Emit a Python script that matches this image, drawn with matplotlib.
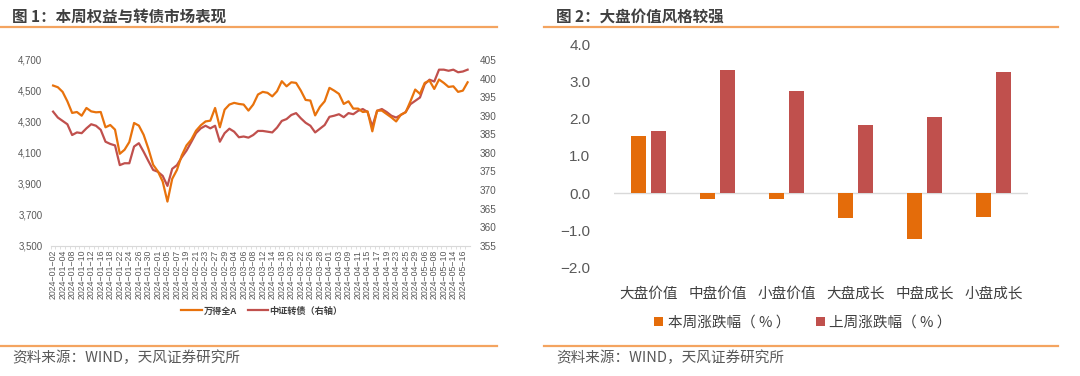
import matplotlib
matplotlib.use("Agg")
import matplotlib.pyplot as plt
import numpy as np

plt.rcParams['font.family'] = ['Noto Sans CJK SC', 'DejaVu Sans']
plt.rcParams['axes.unicode_minus'] = True

W, H = 1080, 376

# ---------------- data: chart 1 ----------------
tick_labels = [
    "2024-01-02", "2024-01-04", "2024-01-08", "2024-01-10", "2024-01-12", "2024-01-16",
    "2024-01-18", "2024-01-22", "2024-01-24", "2024-01-26", "2024-01-30", "2024-02-01",
    "2024-02-05", "2024-02-07", "2024-02-19", "2024-02-21", "2024-02-23", "2024-02-27",
    "2024-02-29", "2024-03-04", "2024-03-06", "2024-03-08", "2024-03-12", "2024-03-14",
    "2024-03-18", "2024-03-20", "2024-03-22", "2024-03-26", "2024-03-28", "2024-04-01",
    "2024-04-03", "2024-04-09", "2024-04-11", "2024-04-15", "2024-04-17", "2024-04-19",
    "2024-04-23", "2024-04-25", "2024-04-29", "2024-05-06", "2024-05-08", "2024-05-10",
    "2024-05-14", "2024-05-16",
]

wind_a = [
    4535, 4524, 4494, 4433, 4358, 4364, 4340, 4390, 4368, 4362,
    4364, 4265, 4280, 4250, 4094, 4120, 4170, 4293, 4276, 4217,
    4127, 4023, 3980, 3915, 3785, 3932, 3990, 4083, 4148, 4185,
    4243, 4278, 4303, 4308, 4390, 4265, 4379, 4412, 4423, 4416,
    4412, 4373, 4412, 4477, 4494, 4488, 4465, 4498, 4563, 4530,
    4556, 4552, 4502, 4442, 4438, 4342, 4397, 4433, 4520, 4502,
    4481, 4416, 4433, 4386, 4386, 4364, 4368, 4239, 4373, 4373,
    4351, 4329, 4303, 4347, 4362, 4433, 4509, 4481, 4552, 4567,
    4513, 4574, 4552, 4526, 4530, 4494, 4502, 4556,
]

cb_index = [
    391.1, 389.5, 388.6, 387.7, 384.8, 385.5, 385.3, 386.6, 387.7, 387.3,
    386.2, 383.0, 382.4, 382.0, 376.7, 377.2, 377.2, 381.7, 382.6, 380.3,
    377.8, 375.4, 374.9, 373.8, 371.1, 375.7, 376.7, 378.8, 380.6, 382.9,
    385.3, 386.6, 387.3, 386.6, 387.3, 383.0, 385.3, 386.5, 385.7, 384.2,
    384.4, 384.1, 384.8, 385.9, 385.9, 385.7, 385.5, 386.8, 388.6, 389.1,
    390.2, 390.7, 389.3, 388.1, 387.3, 385.5, 386.5, 387.5, 389.7, 390.0,
    390.4, 389.6, 390.7, 390.4, 391.3, 391.8, 391.0, 387.1, 391.3, 391.8,
    391.0, 390.0, 389.5, 390.2, 391.0, 393.1, 394.0, 394.9, 398.5, 399.7,
    399.2, 402.4, 402.4, 402.1, 402.4, 401.7, 401.9, 402.4,
]

left_ticks = [3500, 3700, 3900, 4100, 4300, 4500, 4700]
right_ticks = [355, 360, 365, 370, 375, 380, 385, 390, 395, 400, 405]

# ---------------- data: chart 2 ----------------
styles = ["大盘价值", "中盘价值", "小盘价值", "大盘成长", "中盘成长", "小盘成长"]
this_week = [1.55, -0.15, -0.17, -0.68, -1.23, -0.64]
last_week = [1.68, 3.31, 2.75, 1.84, 2.06, 3.26]
bar_ticks = [-2.0, -1.0, 0.0, 1.0, 2.0, 3.0, 4.0]

ORANGE = "#E8720C"
RED = "#C0504D"
BAR_ORANGE = "#E46C0A"
TXT = "#404040"
TICK = "#595959"
LINE_ORANGE = "#F4A460"
NUMFONT = ['Liberation Sans', 'DejaVu Sans']


def rect(x0, y0, x1, y1):
    return [x0 / W, 1 - y1 / H, (x1 - x0) / W, (y1 - y0) / H]


fig = plt.figure(figsize=(W / 100, H / 100), dpi=100)
fig.patch.set_facecolor("white")

# decorative lines and titles
for (xa, xb) in [(0, 497), (544, 1058)]:
    fig.add_artist(plt.Line2D([xa / W, xb / W], [1 - 27 / H, 1 - 27 / H],
                              color=LINE_ORANGE, lw=1.6))
    fig.add_artist(plt.Line2D([xa / W, xb / W], [1 - 346 / H, 1 - 346 / H],
                              color=LINE_ORANGE, lw=1.6))

fig.text(12 / W, 1 - 17 / H, "图 1：本周权益与转债市场表现", fontsize=11.2,
         fontweight="bold", color=TXT, va="center", ha="left")
fig.text(556 / W, 1 - 17 / H, "图 2：大盘价值风格较强", fontsize=11.2,
         fontweight="bold", color=TXT, va="center", ha="left")
fig.text(12 / W, 1 - 358 / H, "资料来源：WIND，天风证券研究所", fontsize=10.5,
         color=TICK, va="center", ha="left")
fig.text(556 / W, 1 - 358 / H, "资料来源：WIND，天风证券研究所", fontsize=10.5,
         color=TICK, va="center", ha="left")

# ---------------- chart 1 ----------------
ax = fig.add_axes(rect(50.7, 60, 470, 245.7))
x = np.arange(len(wind_a))
l1, = ax.plot(x, wind_a, color=ORANGE, lw=1.6, label="万得全A", zorder=3)
ax.set_xlim(-0.5, len(wind_a) - 0.5)
ax.set_ylim(left_ticks[0], left_ticks[-1])
ax.set_yticks(left_ticks)
ax.set_yticklabels([f"{v:,}" for v in left_ticks], fontfamily=NUMFONT)
ax.set_xticks(np.arange(0, 2 * len(tick_labels), 2))
ax.set_xticklabels([t.replace("-", "\u2212") for t in tick_labels], rotation=90,
                   fontsize=6.3, color=TICK, fontfamily=NUMFONT)
ax.set_xticks(np.arange(len(wind_a)) - 0.5, minor=True)
ax.tick_params(axis="x", which="major", length=0, pad=3)
ax.tick_params(axis="x", which="minor", length=2.5, color="#d9d9d9")
ax.tick_params(axis="y", length=0, labelsize=7, labelcolor=TICK, pad=6)
for s in ["top", "right", "left"]:
    ax.spines[s].set_visible(False)
ax.spines["bottom"].set_color("#d9d9d9")
ax.patch.set_alpha(0)

ax2 = ax.twinx()
l2, = ax2.plot(x, cb_index, color=RED, lw=1.6, label="中证转债（右轴）", zorder=2)
ax2.set_ylim(right_ticks[0], right_ticks[-1])
ax2.set_yticks(right_ticks)
ax2.set_yticklabels([str(v) for v in right_ticks], fontfamily=NUMFONT)
ax2.tick_params(axis="y", length=0, labelsize=7.2, labelcolor=TICK, pad=7)
for s in ["top", "right", "left", "bottom"]:
    ax2.spines[s].set_visible(False)
ax.set_zorder(ax2.get_zorder() + 1)

leg = fig.legend([l1, l2], ["万得全A", "中证转债（右轴）"], loc="center",
                 bbox_to_anchor=(262 / W, 1 - 311 / H), ncol=2, frameon=False,
                 fontsize=6.6, handlelength=2.2, handletextpad=0.2, columnspacing=1.2)
for t in leg.get_texts():
    t.set_color(TXT)
    t.set_fontweight("bold")

# ---------------- chart 2 ----------------
bx = fig.add_axes(rect(614, 44.7, 1028, 267.3))
pos = np.arange(len(styles))
bw = 0.22
off = 0.145
b1 = bx.bar(pos - off, this_week, width=bw, color=BAR_ORANGE, label="本周涨跌幅（%）", zorder=3)
b2 = bx.bar(pos + off, last_week, width=bw, color=RED, label="上周涨跌幅（%）", zorder=3)
bx.set_xlim(-0.5, len(styles) - 0.5)
bx.set_ylim(bar_ticks[0], bar_ticks[-1])
bx.set_yticks(bar_ticks)
bx.set_yticklabels([f"{v:.1f}".replace("-", "\u2212") for v in bar_ticks],
                   fontfamily=NUMFONT)
bx.axhline(0, color="#d9d9d9", lw=1, zorder=2)
bx.set_xticks(pos)
bx.set_xticklabels(styles, fontsize=10.5, color=TXT)
bx.tick_params(axis="x", length=0, pad=14)
bx.tick_params(axis="y", length=0, labelsize=11, labelcolor=TICK, pad=17)
for s in ["top", "right", "left", "bottom"]:
    bx.spines[s].set_visible(False)

leg2 = fig.legend([b1, b2], ["本周涨跌幅（ % ）", "上周涨跌幅（ % ）"], loc="center",
                  bbox_to_anchor=(803 / W, 1 - 323 / H), ncol=2, frameon=False,
                  fontsize=10.5, handlelength=0.6, handleheight=0.6,
                  handletextpad=0.3, columnspacing=1.8)
for t in leg2.get_texts():
    t.set_color(TXT)

fig.savefig("out.png", dpi=100, facecolor="white")
